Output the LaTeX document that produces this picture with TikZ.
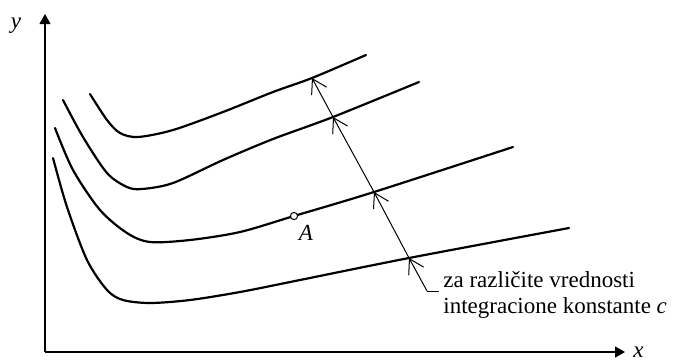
\documentclass[tikz,border=0pt]{standalone}
\usepackage{fontspec}
\setmainfont{Liberation Serif}
\usetikzlibrary{arrows.meta}
\begin{document}
\begin{tikzpicture}[x=0.5pt,y=-0.5pt,
  curve/.style={line width=1.1pt, line join=round, line cap=round},
  axis/.style={line width=0.55pt, -{Triangle[length=5pt,width=5.5pt]}},
  barb/.style={line width=0.5pt, -{Straight Barb[length=7pt,width=8.5pt]}},
  lbl/.style={font=\fontsize{11.5}{13}\selectfont, inner sep=0pt}]
\useasboundingbox (0,0) rectangle (689,360);
% axes
\coordinate (O) at (45,352);
\coordinate (Y) at (45,14);
\coordinate (X) at (625,352);
\draw[axis] (O) -- (Y);
\draw[axis] (O) -- (X);
\node[lbl] (ylab) at (16,26) {\textit{y}};
\node[lbl, anchor=west] (xlab) at (633,352) {\textit{x}};
% curves
\draw[curve] plot[smooth] coordinates {(90,94) (107,120) (120,133) (138,137) (173,130) (223,112) (273,92) (312,78) (366,55)};
\draw[curve] plot[smooth] coordinates {(63,100) (83,137) (107,173) (127,187) (142,189) (173,183) (223,160) (273,139) (333,117) (419,82)};
\draw[curve] plot[smooth] coordinates {(55,128) (73,170) (100,210) (127,233) (150,242) (190,240) (240,232) (294,216) (374,192) (513,147)};
\draw[curve] plot[smooth] coordinates {(53,158) (67,207) (87,260) (107,290) (123,300) (150,303) (190,300) (240,292) (300,280) (409,258) (569,228)};
% point A
\node[circle, draw, fill=white, inner sep=0pt, minimum size=3.6pt, line width=0.5pt] (A) at (294,216) {};
\node[lbl] (Alab) at (306,233) {\textit{A}};
% arrow across the family
\coordinate (i1) at (312,78);
\coordinate (i2) at (333,117);
\coordinate (i3) at (374,192);
\coordinate (i4) at (409,258);
\coordinate (L) at (427,291);
\coordinate (Lend) at (439,291);
\draw[barb] (L) -- (i4);
\draw[barb] (i4) -- (i3);
\draw[barb] (i3) -- (i2);
\draw[barb] (i2) -- (i1);
\draw[line width=0.5pt] (L) -- (Lend);
\node[lbl, anchor=base west] (t1) at (443,287) {za različite vrednosti};
\node[lbl, anchor=base west] (t2) at (443,313) {integracione konstante \textit{c}};
\end{tikzpicture}
\end{document}
